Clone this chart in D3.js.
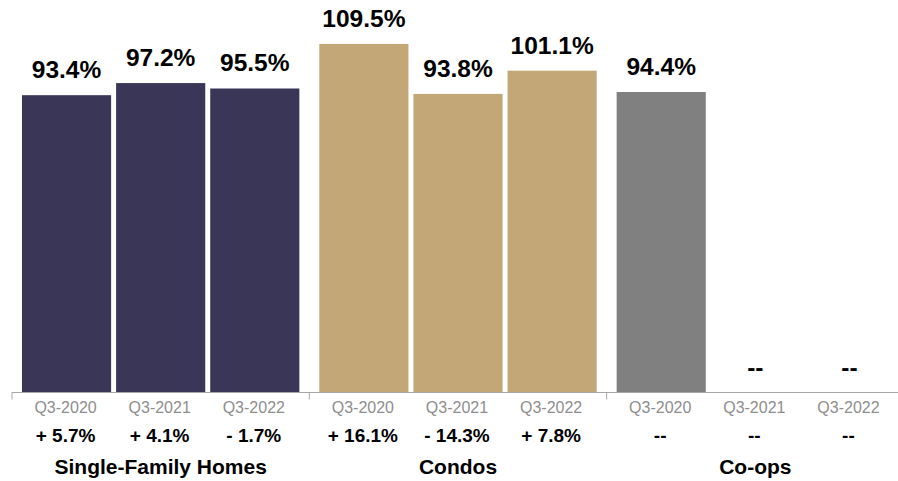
<!DOCTYPE html>
<html>
<head>
<meta charset="utf-8">
<script src="https://cdn.jsdelivr.net/npm/d3@7"></script>
<style>
  html, body { margin: 0; padding: 0; background: #fff; }
  svg { display: block; font-family: Helvetica, Arial, "Liberation Sans", sans-serif; }
</style>
</head>
<body>
<svg id="chart" width="898" height="481"></svg>
<script>
// Property types and periods
const groups = ["Single-Family Homes", "Condos", "Co-ops"];
const periods = ["Q3-2020", "Q3-2021", "Q3-2022"];

// Values per property type (null = no data)
const sfhValues = [93.4, 97.2, 95.5];
const condoValues = [109.5, 93.8, 101.1];
const coopValues = [94.4, null, null];

// Year-over-year change per property type (null = no data)
const sfhChange = [5.7, 4.1, -1.7];
const condoChange = [16.1, -14.3, 7.8];
const coopChange = [null, null, null];

const groupColors = ["#3a3658", "#c3a776", "#808080"];

const seriesValues = [sfhValues, condoValues, coopValues];
const seriesChange = [sfhChange, condoChange, coopChange];

const svg = d3.select("#chart");
const baseY = 392.5;

const x0 = d3.scaleBand().domain(groups).range([12, 904]).padding(0);
const x1 = d3.scaleBand().domain(periods).range([0, x0.bandwidth()])
  .paddingInner(0.053).paddingOuter(0.106);
const y = d3.scaleLinear().domain([0, 123.3]).range([baseY, 0]);

const fmtValue = v => v == null ? "--" : d3.format(".1f")(v) + "%";
const fmtChange = v => v == null ? "--" : (v >= 0 ? "+ " : "- ") + d3.format(".1f")(Math.abs(v)) + "%";

const rows = groups.map((g, gi) => ({
  group: g,
  color: groupColors[gi],
  items: periods.map((p, pi) => ({ period: p, value: seriesValues[gi][pi], change: seriesChange[gi][pi] }))
}));

const gGroups = svg.selectAll("g.grp").data(rows).join("g")
  .attr("class", "grp")
  .attr("transform", d => `translate(${x0(d.group)},0)`);

gGroups.each(function(d) {
  const g = d3.select(this);

  // Bars
  g.selectAll("rect").data(d.items.filter(i => i.value != null)).join("rect")
    .attr("x", i => x1(i.period))
    .attr("y", i => y(i.value))
    .attr("width", x1.bandwidth())
    .attr("height", i => baseY - y(i.value))
    .attr("fill", d.color);

  // Value labels above bars
  g.selectAll("text.val").data(d.items).join("text")
    .attr("class", "val")
    .attr("x", i => x1(i.period) + x1.bandwidth() / 2)
    .attr("y", i => y(i.value == null ? 0 : i.value) - 17)
    .attr("text-anchor", "middle")
    .attr("font-size", 24.5)
    .attr("font-weight", "bold")
    .attr("fill", "#000")
    .text(i => fmtValue(i.value));

  // Period labels
  g.selectAll("text.per").data(d.items).join("text")
    .attr("class", "per")
    .attr("x", i => x1(i.period) + x1.bandwidth() / 2 - 1)
    .attr("y", 413)
    .attr("text-anchor", "middle")
    .attr("font-size", 16)
    .attr("fill", "#8e8e8e")
    .text(i => i.period);

  // Change labels
  g.selectAll("text.chg").data(d.items).join("text")
    .attr("class", "chg")
    .attr("x", i => x1(i.period) + x1.bandwidth() / 2 - 1)
    .attr("y", 441.5)
    .attr("text-anchor", "middle")
    .attr("font-size", 19)
    .attr("font-weight", "bold")
    .attr("fill", "#000")
    .text(i => fmtChange(i.change));

  // Group label
  g.append("text")
    .attr("x", x0.bandwidth() / 2)
    .attr("y", 474)
    .attr("text-anchor", "middle")
    .attr("font-size", 21)
    .attr("font-weight", "bold")
    .attr("fill", "#000")
    .text(d.group);
});

// Category axis: baseline with ticks at group boundaries
const axis = svg.append("g").attr("class", "axis");
axis.append("line")
  .attr("x1", x0.range()[0]).attr("x2", x0.range()[1])
  .attr("y1", baseY).attr("y2", baseY)
  .attr("stroke", "#a6a6a6").attr("stroke-width", 1);
const bounds = groups.map(g => x0(g)).concat([x0.range()[1]]);
axis.selectAll("line.tick").data(bounds).join("line")
  .attr("class", "tick")
  .attr("x1", d => d).attr("x2", d => d)
  .attr("y1", baseY).attr("y2", baseY + 7)
  .attr("stroke", "#a6a6a6").attr("stroke-width", 1);
</script>
</body>
</html>
